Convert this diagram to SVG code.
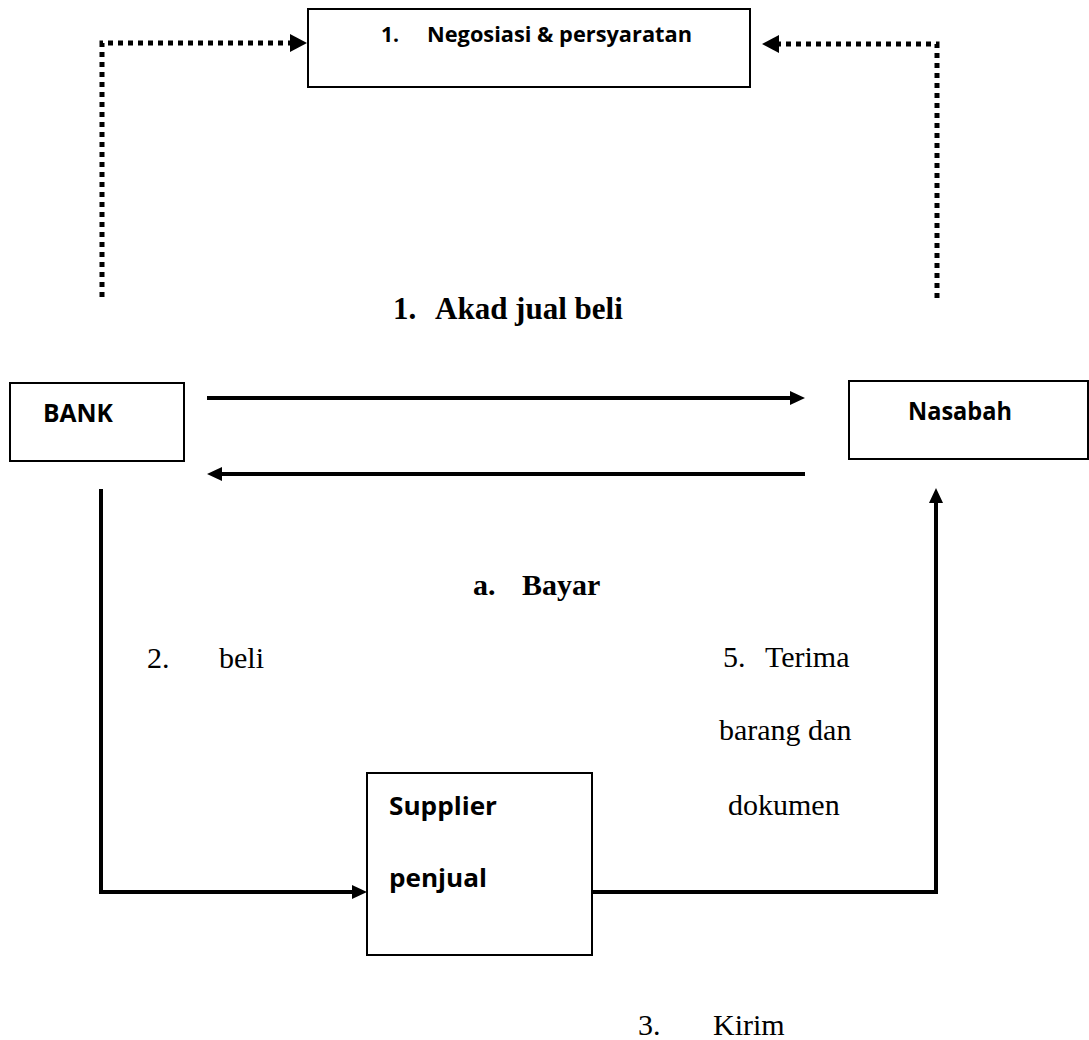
<svg xmlns="http://www.w3.org/2000/svg" width="1089" height="1040" viewBox="0 0 1089 1040">
<style>
.box{fill:#fff;stroke:#000;stroke-width:2}
.sans{font-family:"Open Sans","Noto Sans",sans-serif;font-weight:bold;fill:#000}
.serif{font-family:"Liberation Serif","Times New Roman",serif;fill:#000;font-size:30px}
.b{font-weight:bold}
.dot{fill:none;stroke:#000;stroke-width:5;stroke-dasharray:5 5}
.line{fill:none;stroke:#000;stroke-width:4}
</style>
<g id="connectors">
<path class="dot" d="M102,297 L102,43 L290,43"/>
<path d="M290,34 L307,43 L290,52 Z" fill="#000"/>
<path class="dot" d="M937,298 L937,44 L779,44"/>
<path d="M779,35 L762,44 L779,53 Z" fill="#000"/>
<path class="line" d="M207,398 L790,398"/>
<path d="M790,391 L805,398 L790,405 Z" fill="#000"/>
<path class="line" d="M805,474 L222,474"/>
<path d="M222,467 L207,474 L222,481 Z" fill="#000"/>
<path class="line" d="M101,489 L101,892 L352,892"/>
<path d="M352,885 L367,892 L352,899 Z" fill="#000"/>
<path class="line" d="M592,892 L936,892 L936,503"/>
<path d="M929,503 L936,488 L943,503 Z" fill="#000"/>
</g>
<g id="node-negosiasi">
<rect class="box" x="308" y="9" width="442" height="78"/>
<text class="sans" x="381" y="42" font-size="21">1.</text>
<text class="sans" x="427" y="42" font-size="21" textLength="265" lengthAdjust="spacingAndGlyphs">Negosiasi &amp; persyaratan</text>
</g>
<g id="node-bank">
<rect class="box" x="10" y="383" width="174" height="78"/>
<text class="sans" x="43" y="422" font-size="25" textLength="70" lengthAdjust="spacingAndGlyphs">BANK</text>
</g>
<g id="node-nasabah">
<rect class="box" x="849" y="381" width="239" height="78"/>
<text class="sans" x="908" y="420" font-size="25" textLength="104" lengthAdjust="spacingAndGlyphs">Nasabah</text>
</g>
<g id="node-supplier">
<rect class="box" x="367" y="773" width="225" height="182"/>
<text class="sans" x="389" y="815" font-size="25" textLength="108" lengthAdjust="spacingAndGlyphs">Supplier</text>
<text class="sans" x="389" y="887" font-size="25" textLength="98" lengthAdjust="spacingAndGlyphs">penjual</text>
</g>
<g id="labels">
<text class="serif b" x="393" y="319" style="font-size:31px">1.</text>
<text class="serif b" x="435" y="319" style="font-size:31px">Akad jual beli</text>
<text class="serif b" x="473" y="595">a.</text>
<text class="serif b" x="522" y="595">Bayar</text>
<text class="serif" x="147" y="668">2.</text>
<text class="serif" x="219" y="668">beli</text>
<text class="serif" x="723" y="667">5.</text>
<text class="serif" x="765" y="667">Terima</text>
<text class="serif" x="719" y="740">barang dan</text>
<text class="serif" x="728" y="815">dokumen</text>
<text class="serif" x="638" y="1035">3.</text>
<text class="serif" x="713" y="1035">Kirim</text>
</g>
</svg>
